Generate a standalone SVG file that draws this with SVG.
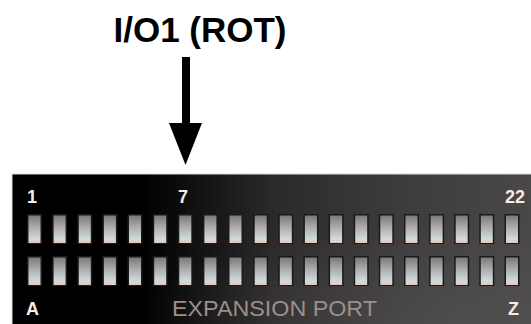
<svg xmlns="http://www.w3.org/2000/svg" xmlns:xlink="http://www.w3.org/1999/xlink" width="531" height="324" viewBox="0 0 531 324">
<style>
.lbl{font-family:"Liberation Sans",Arial,sans-serif;font-weight:bold;font-size:18px;fill:#f6ebe6}
.title{font-family:"Liberation Sans",Arial,sans-serif;font-weight:bold;font-size:35px;fill:#000}
.port{font-family:"Liberation Sans",Arial,sans-serif;font-size:22px;fill:#9e8e8a}
</style>
<defs>
<linearGradient id="panelG" x1="0" y1="0" x2="1" y2="0">
<stop offset="0" stop-color="#000"/>
<stop offset="0.24" stop-color="#000"/>
<stop offset="0.5" stop-color="#2c2a2a"/>
<stop offset="0.75" stop-color="#3e3c3c"/>
<stop offset="1" stop-color="#4a4848"/>
</linearGradient>
<radialGradient id="glow" cx="0.85" cy="0.9" r="0.6">
<stop offset="0" stop-color="#5a5858" stop-opacity="0.5"/>
<stop offset="1" stop-color="#5a5858" stop-opacity="0"/>
</radialGradient>
<linearGradient id="pinG" x1="0" y1="0" x2="0" y2="1">
<stop offset="0" stop-color="#7a7878"/>
<stop offset="0.45" stop-color="#b0aeae"/>
<stop offset="0.85" stop-color="#d0dadd"/>
<stop offset="1" stop-color="#e8c6ba"/>
</linearGradient>
<g id="pin">
<rect x="0" y="0" width="15" height="30" fill="#1a1a1a"/>
<rect x="1.5" y="1.5" width="12" height="27.5" fill="url(#pinG)"/>
</g>
</defs>
<rect width="531" height="324" fill="#fff"/>
<g id="title">
<text class="title" x="200" y="42" text-anchor="middle">I/O1 (ROT)</text>
</g>
<g id="connectors">
<rect x="182" y="57" width="8" height="70" fill="#000"/>
<polygon points="169,123 202,123 185.5,165" fill="#000"/>
</g>
<g id="port">
<rect x="12" y="174" width="530" height="160" fill="url(#panelG)"/>
<rect x="12" y="174" width="530" height="160" fill="url(#glow)"/>
<line x1="12" y1="174" x2="531" y2="174" stroke="#e8d6d0" stroke-width="1"/>
<line x1="12" y1="174" x2="12" y2="324" stroke="#e8d6d0" stroke-width="1"/>
<text class="lbl" x="27" y="203">1</text>
<text class="lbl" x="183" y="203" text-anchor="middle">7</text>
<text class="lbl" x="525" y="203" text-anchor="end">22</text>
<text class="lbl" x="26" y="315">A</text>
<text class="lbl" x="519" y="315" text-anchor="end">Z</text>
<text class="port" x="172" y="316" textLength="205" lengthAdjust="spacingAndGlyphs">EXPANSION PORT</text>
<g id="pins">
<use xlink:href="#pin" x="27" y="214"/><use xlink:href="#pin" x="52.1" y="214"/><use xlink:href="#pin" x="77.3" y="214"/><use xlink:href="#pin" x="102.4" y="214"/><use xlink:href="#pin" x="127.5" y="214"/><use xlink:href="#pin" x="152.7" y="214"/><use xlink:href="#pin" x="177.8" y="214"/><use xlink:href="#pin" x="202.9" y="214"/><use xlink:href="#pin" x="228" y="214"/><use xlink:href="#pin" x="253.2" y="214"/><use xlink:href="#pin" x="278.3" y="214"/><use xlink:href="#pin" x="303.4" y="214"/><use xlink:href="#pin" x="328.6" y="214"/><use xlink:href="#pin" x="353.7" y="214"/><use xlink:href="#pin" x="378.8" y="214"/><use xlink:href="#pin" x="404" y="214"/><use xlink:href="#pin" x="429.1" y="214"/><use xlink:href="#pin" x="454.2" y="214"/><use xlink:href="#pin" x="479.3" y="214"/><use xlink:href="#pin" x="504.5" y="214"/>
<use xlink:href="#pin" x="27" y="256"/><use xlink:href="#pin" x="52.1" y="256"/><use xlink:href="#pin" x="77.3" y="256"/><use xlink:href="#pin" x="102.4" y="256"/><use xlink:href="#pin" x="127.5" y="256"/><use xlink:href="#pin" x="152.7" y="256"/><use xlink:href="#pin" x="177.8" y="256"/><use xlink:href="#pin" x="202.9" y="256"/><use xlink:href="#pin" x="228" y="256"/><use xlink:href="#pin" x="253.2" y="256"/><use xlink:href="#pin" x="278.3" y="256"/><use xlink:href="#pin" x="303.4" y="256"/><use xlink:href="#pin" x="328.6" y="256"/><use xlink:href="#pin" x="353.7" y="256"/><use xlink:href="#pin" x="378.8" y="256"/><use xlink:href="#pin" x="404" y="256"/><use xlink:href="#pin" x="429.1" y="256"/><use xlink:href="#pin" x="454.2" y="256"/><use xlink:href="#pin" x="479.3" y="256"/><use xlink:href="#pin" x="504.5" y="256"/>
</g>
</g>
</svg>
